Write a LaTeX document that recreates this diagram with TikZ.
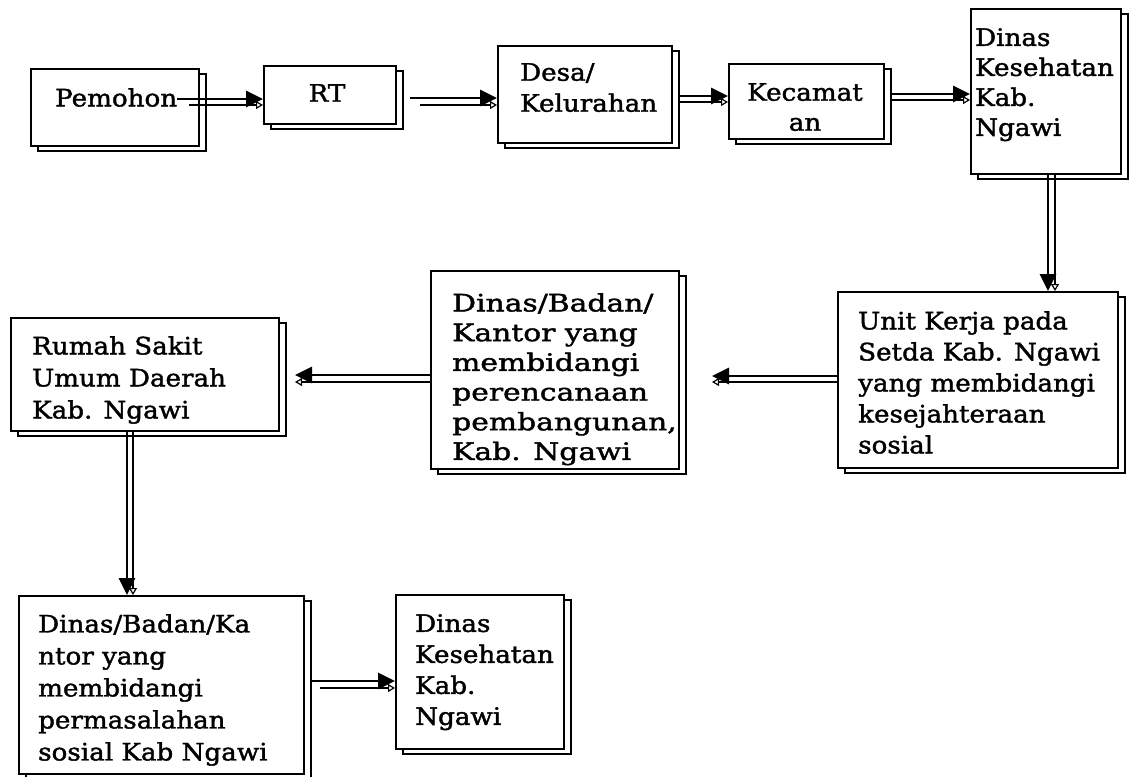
\documentclass[tikz,border=0pt]{standalone}
\usepackage{fontspec}
\setmainfont[FakeStretch=1.09, FakeBold=1.6]{DejaVu Serif}
\newfontfamily\widefont[FakeStretch=1.24, FakeBold=1.6]{DejaVu Serif}
\usetikzlibrary{shadows,arrows.meta}
\begin{document}
\begin{tikzpicture}[x=1pt,y=-1pt,
  bx/.style={draw, line width=2pt, fill=white, anchor=north west, inner sep=0pt,
    copy shadow={shadow xshift=7pt, shadow yshift=-5pt, line width=1.5pt}},
  tx/.style={anchor=north west, inner sep=0pt, align=left, font=\fontsize{24}{30}\selectfont},
  thk/.style={line width=2.8pt, -{Triangle[length=17pt, width=16pt]}},
  thn/.style={line width=1.5pt, -{Triangle[open, length=7pt, width=8pt, line width=1.2pt]}}]
\useasboundingbox[fill=white] (0,0) rectangle (1145,776);
% boxes
\node[bx, minimum width=168pt, minimum height=77pt] (pem) at (30,68) {};
\node[bx, minimum width=132pt, minimum height=58pt] (rt) at (263,65) {};
\node[bx, minimum width=174pt, minimum height=97pt] (desa) at (497,45) {};
\node[bx, minimum width=155pt, minimum height=75pt] (kec) at (728,63) {};
\node[bx, minimum width=150pt, minimum height=165pt] (dk1) at (970,8) {};
\node[bx, minimum width=280pt, minimum height=176pt] (unit) at (837,291) {};
\node[bx, minimum width=248pt, minimum height=198pt] (mid) at (430,270) {};
\node[bx, minimum width=268pt, minimum height=113pt] (rs) at (10,317) {};
\node[bx, minimum width=285pt, minimum height=178pt] (dbk) at (18,595) {};
\node[bx, minimum width=168pt, minimum height=154pt] (dk2) at (395,594) {};
% texts
\node[tx] (tpem) at (55,88) {Pemohon};
\node[tx, anchor=center] (trt) at (327,93) {RT};
\node[tx, font=\fontsize{24}{31}\selectfont] (tdesa) at (520,63) {Desa/\\Kelurahan};
\node[tx, anchor=north, align=center] (tkec) at (805,83) {Kecamat\\an};
\node[tx] (tdk1) at (975,28) {Dinas\\Kesehatan\\Kab.\\Ngawi};
\node[tx, font=\fontsize{24}{31}\selectfont] (tunit) at (858,311) {Unit Kerja pada\\Setda Kab. Ngawi\\yang membidangi\\kesejahteraan\\sosial};
\node[tx, font=\widefont\fontsize{24}{29.7}\selectfont] (tmid) at (452,293) {Dinas/Badan/\\Kantor yang\\membidangi\\perencanaan\\pembangunan,\\Kab. Ngawi};
\node[tx, font=\fontsize{24}{32}\selectfont] (trs) at (32,336) {Rumah Sakit\\Umum Daerah\\Kab. Ngawi};
\node[tx, font=\fontsize{24}{32}\selectfont] (tdbk) at (38,614) {Dinas/Badan/Ka\\ntor yang\\membidangi\\permasalahan\\sosial Kab Ngawi};
\node[tx, font=\fontsize{24}{31}\selectfont] (tdk2) at (415,614) {Dinas\\Kesehatan\\Kab.\\Ngawi};
% connectors
\draw[thk] (tpem.east |- 0,99) -- (rt.west |- 0,99);
\draw[thn] ([xshift=-11pt]pem.east |- 0,105) -- (rt.west |- 0,105);
\draw[thk] ([xshift=13pt]rt.east |- 0,98) -- (desa.west |- 0,98);
\draw[thn] ([xshift=23pt]rt.east |- 0,105) -- (desa.west |- 0,105);
\draw[thk] ([xshift=7pt]desa.east |- 0,96) -- (kec.west |- 0,96);
\draw[thn] ([xshift=7pt]desa.east |- 0,102) -- (kec.west |- 0,102);
\draw[thk] ([xshift=7pt]kec.east |- 0,94) -- (dk1.west |- 0,94);
\draw[thn] ([xshift=7pt]kec.east |- 0,100) -- (dk1.west |- 0,100);
\draw[thk] (1048,0 |- dk1.south) -- (1048,0 |- unit.north);
\draw[thn] (1055,0 |- dk1.south) -- (1055,0 |- unit.north);
\draw[thk] (unit.west |- 0,376) -- ([xshift=32pt]mid.east |- 0,376);
\draw[thn] (unit.west |- 0,382) -- ([xshift=32pt]mid.east |- 0,382);
\draw[thk] (mid.west |- 0,375) -- ([xshift=15pt]rs.east |- 0,375);
\draw[thn] (mid.west |- 0,382) -- ([xshift=15pt]rs.east |- 0,382);
\draw[thk] (127,0 |- rs.south) -- (127,0 |- dbk.north);
\draw[thn] (133,0 |- rs.south) -- (133,0 |- dbk.north);
\draw[thk] ([xshift=7pt]dbk.east |- 0,681) -- (dk2.west |- 0,681);
\draw[thn] ([xshift=15pt]dbk.east |- 0,688) -- (dk2.west |- 0,688);
\end{tikzpicture}
\end{document}
